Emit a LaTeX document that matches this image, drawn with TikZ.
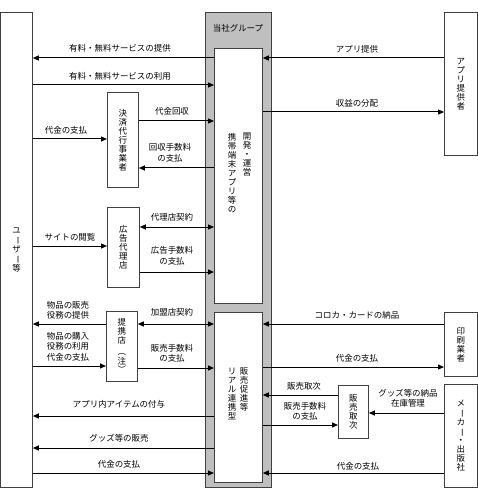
\documentclass[tikz,border=0pt]{standalone}
\usepackage{fontspec}
\setmainfont{Noto Sans CJK JP}
\usetikzlibrary{arrows.meta}
\newcommand{\vbar}{\rotatebox[origin=c]{-90}{ー}}
\newcommand{\vlp}{\rotatebox[origin=c]{-90}{（}}
\newcommand{\vrp}{\rotatebox[origin=c]{-90}{）}}
\begin{document}
\begin{tikzpicture}[x=1bp,y=-1bp,
  box/.style={draw=black!75, line width=0.8bp, fill=white, inner sep=0, anchor=north west},
  grpbox/.style={box, fill=black!25},
  arr/.style={-{Triangle[length=6bp,width=5bp]}, line width=1bp},
  darr/.style={{Triangle[length=6bp,width=5bp]}-{Triangle[length=6bp,width=5bp]}, line width=1bp},
  lab/.style={font=\fontsize{8.5}{10.5}\selectfont, inner sep=0, align=center},
  vlab/.style={font=\fontsize{8.5}{9}\selectfont, inner sep=0, align=center}]
\useasboundingbox (0,0) rectangle (478,488);
% levels
\foreach \y in {58,85,112,121,139,168,227,246,272,324,366,367,368,395,413,416,425,448,473}
  \coordinate (y\y) at (0,\y);
% boxes
\node[box, minimum width=31.5bp, minimum height=475bp] (user) at (0.5,12) {};
\node[grpbox, minimum width=66bp, minimum height=475bp] (grp) at (205,12) {};
\node[box, minimum width=48bp, minimum height=255bp] (ub) at (214,48) {};
\node[box, minimum width=48bp, minimum height=170bp] (lb) at (214,312) {};
\node[box, minimum width=33bp, minimum height=143bp] (app) at (444,12) {};
\node[box, minimum width=31bp, minimum height=95bp] (kessai) at (107,92) {};
\node[box, minimum width=32bp, minimum height=80bp] (koukoku) at (107,207) {};
\node[box, minimum width=31bp, minimum height=70bp] (teikei) at (106,311) {};
\node[box, minimum width=33bp, minimum height=64bp] (insatsu) at (444,312) {};
\node[box, minimum width=30bp, minimum height=53bp] (toritsugi) at (338,385) {};
\node[box, minimum width=33bp, minimum height=103bp] (maker) at (444,384) {};
% box texts
\node[lab] (tgrp) at (238,28) {当社グループ};
\node[vlab] (tuser) at (user.center) {ユ\\\vbar\\ザ\\\vbar\\等};
\node[vlab, anchor=north] (tub1) at (232,133) {携\\帯\\端\\末\\ア\\プ\\リ\\等\\の};
\node[vlab, anchor=north] (tub2) at (247,133) {開\\発\\・\\運\\営};
\node[vlab, anchor=north] (tlb1) at (232,368) {リ\\ア\\ル\\連\\携\\型};
\node[vlab, anchor=north] (tlb2) at (244,368) {販\\売\\促\\進\\等};
\node[vlab] (tapp) at (app.center) {ア\\プ\\リ\\提\\供\\者};
\node[vlab] (tkessai) at (kessai.center) {決\\済\\代\\行\\事\\業\\者};
\node[vlab] (tkoukoku) at (koukoku.center) {広\\告\\代\\理\\店};
\node[vlab] (tteikei) at (teikei.center) {提\\携\\店\\[3bp]\vlp\\注\\\vrp};
\node[vlab] (tinsatsu) at (insatsu.center) {印\\刷\\業\\者};
\node[vlab] (ttoritsugi) at (toritsugi.center) {販\\売\\取\\次};
\node[vlab] (tmaker) at (maker.center) {メ\\\vbar\\カ\\\vbar\\・\\出\\版\\社};
% left arrows
\draw[arr] (ub.west |- y58) -- (user.east |- y58);
\node[lab] (l1) at (120,48) {有料・無料サービスの提供};
\draw[arr] (user.east |- y85) -- (ub.west |- y85);
\node[lab] (l2) at (120,76) {有料・無料サービスの利用};
\draw[arr] (kessai.east |- y121) -- (ub.west |- y121);
\node[lab] (l3) at (172,111) {代金回収};
\draw[arr] (user.east |- y139) -- (kessai.west |- y139);
\node[lab] (l4) at (66,130) {代金の支払};
\draw[arr] (ub.west |- y168) -- (kessai.east |- y168);
\node[lab] (l5) at (170,153) {回収手数料\\の支払};
\draw[darr] (koukoku.east |- y227) -- (ub.west |- y227);
\node[lab] (l6) at (172,217) {代理店契約};
\draw[arr] (user.east |- y246) -- (koukoku.west |- y246);
\node[lab] (l7) at (70,237) {サイトの閲覧};
\draw[arr] (koukoku.east |- y272) -- (ub.west |- y272);
\node[lab] (l8) at (172,256) {広告手数料\\の支払};
\draw[arr] (teikei.west |- y324) -- (user.east |- y324);
\node[lab] (l9) at (68,310.5) {物品の販売\\役務の提供};
\draw[darr] (teikei.east |- y324) -- (lb.west |- y324);
\node[lab] (l10) at (172,312) {加盟店契約};
\draw[arr] (user.east |- y366) -- (teikei.west |- y366);
\node[lab] (l11) at (68,346.5) {物品の購入\\役務の利用\\代金の支払};
\draw[arr] (teikei.east |- y368) -- (lb.west |- y368);
\node[lab] (l12) at (172,353.5) {販売手数料\\の支払};
\draw[arr] (lb.west |- y416) -- (user.east |- y416);
\node[lab] (l13) at (119,404) {アプリ内アイテムの付与};
\draw[arr] (lb.west |- y448) -- (user.east |- y448);
\node[lab] (l14) at (119,438) {グッズ等の販売};
\draw[arr] (user.east |- y473) -- (lb.west |- y473);
\node[lab] (l15) at (119,464) {代金の支払};
% right arrows
\draw[arr] (app.west |- y58) -- (ub.east |- y58);
\node[lab] (r1) at (357,49) {アプリ提供};
\draw[arr] (ub.east |- y112) -- (app.west |- y112);
\node[lab] (r2) at (357,103) {収益の分配};
\draw[arr] (insatsu.west |- y324) -- (lb.east |- y324);
\node[lab] (r3) at (357,315) {コロカ・カードの納品};
\draw[arr] (lb.east |- y367) -- (insatsu.west |- y367);
\node[lab] (r4) at (357,358) {代金の支払};
\draw[arr] (toritsugi.west |- y395) -- (lb.east |- y395);
\node[lab] (r5) at (304,386) {販売取次};
\draw[arr] (lb.east |- y425) -- (toritsugi.west |- y425);
\node[lab] (r6) at (305,411.5) {販売手数料\\の支払};
\draw[arr] (maker.west |- y413) -- (toritsugi.east |- y413);
\node[lab] (r7) at (408,398) {グッズ等の納品\\在庫管理};
\draw[arr] (maker.west |- y473) -- (lb.east |- y473);
\node[lab] (r8) at (358,466) {代金の支払};
\end{tikzpicture}
\end{document}
